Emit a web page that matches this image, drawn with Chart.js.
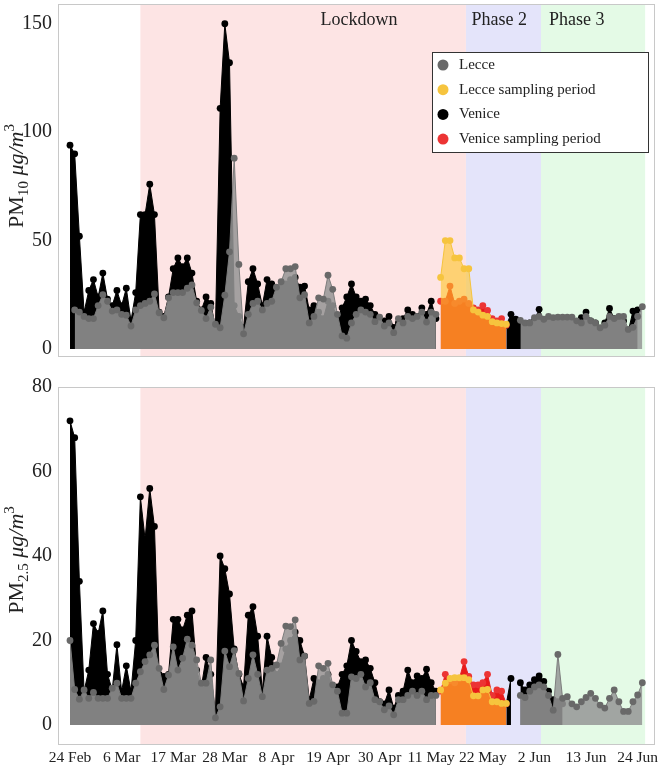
<!DOCTYPE html>
<html>
<head>
<meta charset="utf-8">
<script src="https://cdn.jsdelivr.net/npm/chart.js@4.4.0/dist/chart.umd.min.js"></script>
<style>
  body { margin: 0; background: #fff; }
  canvas { position: absolute; left: 0; }
  #top { top: 0; }
  #bottom { top: 365px; }
</style>
</head>
<body>
<canvas id="top" width="661" height="365"></canvas>
<canvas id="bottom" width="661" height="402"></canvas>
<script>
// day 0 = 24 Feb 2020, one value per day
const xTickDays = [0, 11, 22, 33, 44, 55, 66, 77, 88, 99, 110, 121];
const xTickLabels = ['24 Feb', '6 Mar', '17 Mar', '28 Mar', '8 Apr', '19 Apr', '30 Apr', '11 May', '22 May', '2 Jun', '13 Jun', '24 Jun'];

const phaseNames = ['Lockdown', 'Phase 2', 'Phase 3'];
const phaseStart = [15, 84.4, 100.4];
const phaseEnd = [84.4, 100.4, 122.6];
const phaseLabelDay = [61.6, 91.5, 108];

const samplingFrom = 79, samplingTo = 93;

const lecce10 = [
  null, 18, 17, 15, 14, 14, 20, 25, 22, 17.5,
  18, 16, 15.6, 10.6, 18, 20, 21, 22, 25.4, 16.7,
  14.4, 23.6, 26, 26, 26, 28, 29.5, 21.3, 17.8, 14,
  19.3, 11.4, 9.8, 24.8, 44.8, 88, 39, 7, 16, 21,
  22, 18, 21, 22, 28.5, 31, 37, 37, 38, 23.6,
  25, 12, 15, 23.6, 23, 34, 27.5, 16, 6, 5,
  12, 16, 18, 17, 16, 12.6, 14.7, 10.6, 12, 7.5,
  14, 12, 15, 14, 15, 17, 12.4, 17, 16, 33,
  50, 50, 42, 42, 37, 37, 18, 17, 15.6, 15,
  12.6, 12, 11.7, 11.4, null, null, 13.2, 12, 12, 14.4,
  15, 13.7, 15, 14.5, 14.7, 14.7, 14.7, 14.7, 13, 12,
  15, 13, 12, 9.8, 11, 15, 14, 15, 15, 9,
  10, 15, 19.5
];
const venice10 = [
  94, 90, 52, 17, 27, 32, 24, 35, 23, 20,
  27, 20, 28, 13, 26, 62, 62, 76, 62, 17,
  15, 24, 37, 42, 38, 42, 35, 22, 18, 24,
  21, 10, 111, 150, 132, 20, 15, 10, 31, 37,
  30, 20, 32, 30, 26, 28, 30, 32, 33, 28.5,
  29, 18, 20, 17, 14, 22, 20, 14, 19, 24,
  30, 24, 22, 23, 20, 16, 12, 13, 15, 10,
  12, 14, 18, 16, 15, 19, 16, 22, 14, 22,
  22, 29, 21, 22, 23, 21, 19, 18, 20, 17.8,
  14, 13, 14, 11, 16, 13.7, 12, 11, 12, 13,
  18.3, 13, 13, 12, 13, 13, 13, 13, 12, 14.4,
  17, 13, 12, 9, 12, 18.7, 14, 14, 13, 8,
  17.5, 18, null
];
const lecce25 = [
  20, 8.4, 6.1, 8.3, 6.3, 7.7, 6.3, 6.3, 6.3, 8.7,
  9.9, 6.3, 6.3, 6.3, 9.9, 12.6, 15, 16.6, 18.9, 13.4,
  8.4, 11.8, 18.5, 13, 15.8, 20.3, 18.9, 15.4, 9.9, 9.9,
  15.4, 1.7, 4.3, 17.5, 13.8, 17.6, 12.2, 5.7, 11, 16.6,
  12, 6.7, 13, 13.4, 14.2, 19.3, 23.4, 23.3, 24.9, 15.4,
  16.3, 5.1, 5.6, 14, 13.4, 14.6, 9.5, 8, 2.8, 2.8,
  11.4, 11, 12, 9, 10, 6, 5.5, 3.6, 4.5, 2.4,
  6, 6, 7, 8, 7, 8, 6, 7, 7, 8.3,
  9.9, 11, 11.2, 11.2, 11.2, 10.7, 6.9, 6.9, 8.3, 8.4,
  5.5, 5.5, 5.1, 5.1, null, null, 7, 6.5, 8, 9,
  9.5, 9, 7, 3.5, 16.7, 6.3, 6.7, 5, 4.3, 5.5,
  6.5, 7.5, 6.3, 4.7, 4, 6.3, 8.3, 5.5, 3.2, 3.2,
  5.5, 7.1, 10
];
const venice25 = [
  72, 68, 34, 8, 13, 24, 21.7, 27, 12, 8.3,
  19, 8, 14, 8, 20, 54, 44, 56, 47, 12,
  11.5, 12, 25, 25, 22.5, 26, 27, 13, 9, 16,
  12, 3, 40, 37, 31, 18, 12, 9, 26, 28,
  21, 8, 21, 16, 12, 14, 18, 20, 22, 20,
  16.3, 6, 11, 10, 11, 12, 9, 9, 12, 14,
  20, 17.4, 15, 15.4, 13.4, 10, 5.5, 5, 8.3, 4,
  7, 8, 13, 10, 11.6, 11, 13.2, 10, 8, 8,
  12, 10.5, 10, 11, 15, 11.5, 9.5, 9.5, 10, 12,
  7, 8.3, 8, 5, 11, null, 10, 8.3, 9.5, 10.7,
  11.6, 10.3, 8, 6, 5.5, 5, null, null, null, null,
  null, null, null, null, null, null, null, null, null, null,
  null, null, null
];

const yTicks10 = [0, 50, 100, 150];
const yTicks25 = [0, 20, 40, 60, 80];
const legendLabels = ['Lecce', 'Lecce sampling period', 'Venice', 'Venice sampling period'];

const family = "'Liberation Serif', 'DejaVu Serif', serif";
const phaseColors = ['rgb(253,228,228)', 'rgb(228,228,250)', 'rgb(228,250,230)'];

function pts(values, keep) {
  return values.map((v, i) => ({ x: i, y: keep(i) ? v : null }));
}

function makeDatasets(lecce, venice) {
  const inS = i => i >= samplingFrom && i <= samplingTo;
  const common = { fill: 'origin', tension: 0, borderWidth: 1, pointRadius: 3.4, pointBorderWidth: 0, spanGaps: false };
  return [
    Object.assign({ label: 'Lecce sampling period', data: pts(lecce, inS), order: 1,
      borderColor: 'rgb(246,196,62)', pointBackgroundColor: 'rgb(246,196,62)', backgroundColor: 'rgba(255,196,40,0.6)' }, common),
    Object.assign({ label: 'Lecce', data: pts(lecce, i => !inS(i)), order: 2,
      borderColor: 'rgb(125,125,125)', pointBackgroundColor: 'rgb(105,105,105)', backgroundColor: 'rgba(150,150,150,0.86)' }, common),
    Object.assign({ label: 'Venice sampling period', data: pts(venice, inS), order: 3,
      borderColor: 'rgb(230,30,30)', pointBackgroundColor: 'rgb(236,52,52)', backgroundColor: 'rgb(232,26,26)' }, common),
    Object.assign({ label: 'Venice', data: pts(venice, i => !inS(i) || i === samplingTo), order: 4,
      borderColor: '#000', pointBackgroundColor: '#000', backgroundColor: '#000' }, common)
  ];
}

function xScale(show) {
  return {
    type: 'linear', min: -2.56, max: 124.7, display: show,
    afterBuildTicks: s => { s.ticks = xTickDays.map(v => ({ value: v })); },
    afterFit: s => { s.height = show ? 22 : 0; s.paddingLeft = 0; s.paddingRight = 0; },
    grid: { display: false, drawTicks: false }, border: { display: false },
    ticks: { padding: 4, autoSkip: false, maxRotation: 0, color: '#222', font: { family, size: 15.5 },
      callback: v => xTickLabels[xTickDays.indexOf(v)] }
  };
}

function yScale(min, max, ticks) {
  return {
    min, max,
    afterBuildTicks: s => { s.ticks = ticks.map(v => ({ value: v })); },
    afterFit: s => { s.width = 58; s.paddingTop = 0; s.paddingBottom = 0; },
    grid: { display: false, drawTicks: false }, border: { display: false },
    ticks: { padding: 6, color: '#222', font: { family, size: 20 } }
  };
}

const bandsPlugin = {
  id: 'bands',
  beforeDatasetsDraw(chart) {
    const { ctx, chartArea: a, scales: { x } } = chart;
    ctx.save();
    phaseStart.forEach((s, i) => {
      const x0 = x.getPixelForValue(s), x1 = x.getPixelForValue(phaseEnd[i]);
      ctx.fillStyle = phaseColors[i];
      ctx.fillRect(x0, a.top, x1 - x0, a.bottom - a.top);
    });
    ctx.restore();
  }
};

const framePlugin = {
  id: 'frame',
  afterDraw(chart) {
    const { ctx, chartArea: a } = chart;
    ctx.save();
    ctx.strokeStyle = '#c8c8c8';
    ctx.lineWidth = 1;
    ctx.strokeRect(Math.round(a.left) + 0.5, Math.round(a.top) + 0.5, Math.round(a.right - a.left) - 1, Math.round(a.bottom - a.top) - 1);
    ctx.restore();
  }
};

function titlePlugin(sub, centerY) {
  return {
    id: 'ytitle',
    afterDraw(chart) {
      const { ctx } = chart;
      const parts = [
        { t: 'PM', size: 22, dy: 0 },
        { t: sub, size: 15, dy: 5 },
        { t: ' ', size: 22, dy: 0 },
        { t: 'μg/m', size: 22, dy: 0, italic: true },
        { t: '3', size: 15, dy: -9 }
      ];
      ctx.save();
      let total = 0;
      parts.forEach(p => {
        ctx.font = (p.italic ? 'italic ' : '') + p.size + 'px ' + family;
        p.w = ctx.measureText(p.t).width;
        total += p.w;
      });
      ctx.translate(23, centerY);
      ctx.rotate(-Math.PI / 2);
      ctx.fillStyle = '#222';
      ctx.textBaseline = 'alphabetic';
      let xx = -total / 2;
      parts.forEach(p => {
        ctx.font = (p.italic ? 'italic ' : '') + p.size + 'px ' + family;
        ctx.fillText(p.t, xx, p.dy);
        xx += p.w;
      });
      ctx.restore();
    }
  };
}

const phaseLabelPlugin = {
  id: 'phaseLabels',
  afterDatasetsDraw(chart) {
    const { ctx, chartArea: a, scales: { x } } = chart;
    ctx.save();
    ctx.font = '18px ' + family;
    ctx.fillStyle = '#222';
    ctx.textAlign = 'center';
    ctx.textBaseline = 'middle';
    phaseNames.forEach((n, i) => ctx.fillText(n, x.getPixelForValue(phaseLabelDay[i]), a.top + 16));
    ctx.restore();
  }
};

const legendPlugin = {
  id: 'boxLegend',
  afterDraw(chart) {
    const { ctx, chartArea: a } = chart;
    const left = a.right - 223, top = a.top + 48, w = 216, h = 100;
    ctx.save();
    ctx.fillStyle = '#fff';
    ctx.fillRect(left, top, w, h);
    ctx.strokeStyle = '#333';
    ctx.lineWidth = 1;
    ctx.strokeRect(Math.round(left) + 0.5, Math.round(top) + 0.5, w, h);
    ctx.font = '15px ' + family;
    ctx.textBaseline = 'middle';
    legendLabels.forEach((lab, i) => {
      const ds = chart.data.datasets.find(d => d.label === lab);
      const cy = top + 13 + i * 24.7;
      ctx.fillStyle = ds.pointBackgroundColor;
      ctx.beginPath();
      ctx.arc(left + 11, cy, 5.5, 0, Math.PI * 2);
      ctx.fill();
      ctx.fillStyle = '#222';
      ctx.fillText(lab, left + 27, cy);
    });
    ctx.restore();
  }
};

function baseOptions(padding, showX, yMin, yMax, yTicks) {
  return {
    responsive: false, animation: false, events: [],
    layout: { padding },
    plugins: { legend: { display: false }, tooltip: { enabled: false } },
    scales: { x: xScale(showX), y: yScale(yMin, yMax, yTicks) }
  };
}

new Chart(document.getElementById('top'), {
  type: 'line',
  data: { datasets: makeDatasets(lecce10, venice10) },
  options: baseOptions({ left: 0, right: 6, top: 2, bottom: 8 }, false, -3.7, 159.1, yTicks10),
  plugins: [bandsPlugin, phaseLabelPlugin, framePlugin, titlePlugin('10', 176), legendPlugin]
});

new Chart(document.getElementById('bottom'), {
  type: 'line',
  data: { datasets: makeDatasets(lecce25, venice25) },
  options: baseOptions({ left: 0, right: 6, top: 22, bottom: 0 }, true, -4.74, 80, yTicks25),
  plugins: [bandsPlugin, framePlugin, titlePlugin('2.5', 195)]
});
</script>
</body>
</html>
